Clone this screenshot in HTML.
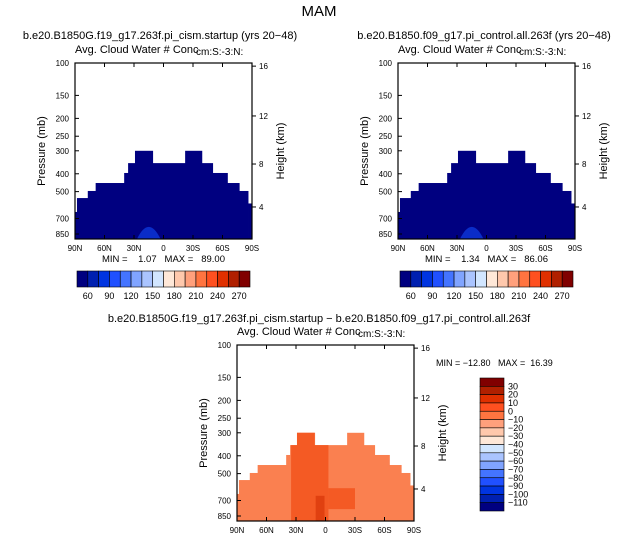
<!DOCTYPE html>
<html><head><meta charset="utf-8"><style>
body{margin:0;background:#fff;}
svg{display:block;font-family:"Liberation Sans",sans-serif;}
text{white-space:pre;}
</style></head><body>
<svg id="c" width="638" height="542" xmlns="http://www.w3.org/2000/svg">
<text x="319" y="16" font-size="15" text-anchor="middle">MAM</text>
<text x="160" y="39" font-size="11" text-anchor="middle">b.e20.B1850G.f19_g17.263f.pi_cism.startup (yrs 20−48)</text>
<text x="484" y="39" font-size="11" text-anchor="middle">b.e20.B1850.f09_g17.pi_control.all.263f (yrs 20−48)</text>
<text x="319" y="322" font-size="11" text-anchor="middle">b.e20.B1850G.f19_g17.263f.pi_cism.startup − b.e20.B1850.f09_g17.pi_control.all.263f</text>
<g id="g"></g>
</svg>
<script>
// data
const latEdges=[90,88,77,69,40,36,29,11,-22,-39,-50,-65,-77,-86,-90];
const colTopP=[645,542,496,449,396,350,300,350,300,350,396,449,496,580];
const pTicks=[100,150,200,250,300,400,500,700,850];
const hTicks=[16,12,8,4];
const hTickP=[104,194,354,606];
const latTicks=[90,60,30,0,-30,-60,-90];
const latTickLabels=["90N","60N","30N","0","30S","60S","90S"];
const absLevels=[60,90,120,150,180,210,240,270];
const diffLevels=[30,20,10,0,-10,-20,-30,-40,-50,-60,-70,-80,-90,-100,-110];
const panelMin=[1.07,1.34,-12.80];
const panelMax=[89.00,86.06,16.39];
const blobLat=[27,3]; const blobTopP=720;
const darkLat=[35,-3]; const dark2Lat=[-3,-30]; const dark2P=[600,780];
const darkestLat=[10,1]; const darkestTopP=660;
const bottomP=904;
const colors=["#000080","#0020b0","#0034e0","#2050ff","#4474ff","#80a4ff","#aac4ff","#d2e6ff","#ffe8d8","#ffc8ac","#ffa07c","#ff7440","#ff5020","#e03000","#b02000","#800000"];

const NS="http://www.w3.org/2000/svg";
const G=document.getElementById('g');
function mk(tag,attrs,parent,txt){const e=document.createElementNS(NS,tag);for(const k in attrs)e.setAttribute(k,attrs[k]);if(txt!==undefined)e.textContent=txt;(parent||G).appendChild(e);return e;}
const W=177,H=176;
function panel(idx,L,T,baseFill){
  const xs=lat=>L+(90-lat)/180*W;
  const ys=p=>T+Math.log10(p/100)*184;
  const g=mk('g',{});
  
  
  for(let i=0;i<colTopP.length;i++){
    const x0=xs(latEdges[i]),x1=xs(latEdges[i+1]),y0=ys(colTopP[i]),y1=ys(bottomP);
    const r=mk('rect',{x:x0,y:y0,width:x1-x0+0.4,height:Math.min(y1,T+H)-y0,fill:baseFill},g);
    
    
  }
  if(idx<2){
    const b=mk('path',{d:`M${xs(blobLat[0])},${T+H} Q${(xs(blobLat[0])+xs(blobLat[1]))/2},${ys(blobTopP)-6} ${xs(blobLat[1])},${T+H} Z`,fill:"#0a2cc8"},g);
    
    
  } else {
    let pts=[];
    for(let i=0;i<colTopP.length;i++){
      const a=Math.min(latEdges[i],darkLat[0]),c=Math.max(latEdges[i+1],darkLat[1]);
      if(a>c){pts.push([xs(a),ys(colTopP[i])],[xs(c),ys(colTopP[i])]);}
    }
    pts.push([xs(darkLat[1]),T+H],[xs(darkLat[0]),T+H]);
    const p1=mk('polygon',{points:pts.map(p=>p.join(',')).join(' '),fill:"#f45a24"},g);
    
    
    const p2=mk('rect',{x:xs(dark2Lat[0]),y:ys(dark2P[0]),width:xs(dark2Lat[1])-xs(dark2Lat[0]),height:ys(dark2P[1])-ys(dark2P[0]),fill:"#f45a24"},g);
    
    
    const p3=mk('rect',{x:xs(darkestLat[0]),y:ys(darkestTopP),width:xs(darkestLat[1])-xs(darkestLat[0]),height:T+H-ys(darkestTopP),fill:"#e04010"},g);
    
    
  }
  const fr=mk('rect',{x:L,y:T,width:W,height:H,fill:"none",stroke:"#000","stroke-width":1.2},g);
  
  
  pTicks.forEach(p=>{
    const y=ys(p);
    mk('line',{x1:L,x2:L+4,y1:y,y2:y,stroke:"#000"},g);
    const t=mk('text',{x:L-6,y:y+3,"font-size":8,"text-anchor":"end"},g,p);
    
    
  });
  hTicks.forEach((h,i)=>{
    const y=ys(hTickP[i]);
    mk('line',{x1:L+W,x2:L+W+4,y1:y,y2:y,stroke:"#000"},g);
    const t=mk('text',{x:L+W+7,y:y+3,"font-size":8},g,h);
    
    
  });
  latTicks.forEach((lt,i)=>{
    const x=xs(lt);
    mk('line',{x1:x,x2:x,y1:T+H,y2:T+H-4,stroke:"#000"},g);
    mk('line',{x1:x,x2:x,y1:T,y2:T+4,stroke:"#000"},g);
    const t=mk('text',{x:x,y:T+H+12,"font-size":8,"text-anchor":"middle"},g,latTickLabels[i]);
    
    
  });
  const yl=mk('text',{x:0,y:0,"font-size":11,"text-anchor":"middle",transform:`translate(${L-30},${T+H/2}) rotate(-90)`},g,"Pressure (mb)");
  
  
  const yr=mk('text',{x:0,y:0,"font-size":11,"text-anchor":"middle",transform:`translate(${L+W+32},${T+H/2}) rotate(-90)`},g,"Height (km)");
  
  
  const st=mk('text',{x:L,y:T-10,"font-size":11},g,"Avg. Cloud Water # Conc");
  
  
  const un=mk('text',{x:L+121,y:T-8,"font-size":10},g,"cm:S:-3:N:");
  
  
  const mmTxt="MIN =    "+panelMin[idx].toFixed(2)+"   MAX =   "+panelMax[idx].toFixed(2);
  let mm;
  if(idx<2) mm=mk('text',{x:L+W/2,y:T+H+23,"font-size":9.5,"text-anchor":"middle"},g,mmTxt);
  else mm=mk('text',{x:L+W+22,y:T+21,"font-size":9},g,"MIN = "+panelMin[idx].toFixed(2).replace('-','−')+"   MAX =  "+panelMax[idx].toFixed(2));
  
  
  if(idx<2){
    const cx=L+2,cy=271,bw=173/16;
    colors.forEach((c,i)=>{
      const r=mk('rect',{x:cx+i*bw,y:cy,width:bw,height:16,fill:c,stroke:"#000","stroke-width":0.6},g);
      
      
    });
    absLevels.forEach((v,i)=>{
      const t=mk('text',{x:cx+(1+2*i)*bw,y:cy+28,"font-size":9,"text-anchor":"middle"},g,v);
      
      
    });
  } else {
    const cx=480,cy=378,bh=133/16;
    colors.slice().reverse().forEach((c,i)=>{
      const r=mk('rect',{x:cx,y:cy+i*bh,width:24,height:bh,fill:c,stroke:"#000","stroke-width":0.6},g);
      
      
    });
    diffLevels.forEach((v,i)=>{
      const t=mk('text',{x:cx+28,y:cy+(i+1)*bh+3,"font-size":9},g,String(v).replace('-','−'));
      
      
    });
  }
}
panel(0,75,63,"#000080");
panel(1,398,63,"#000080");
panel(2,237,345,"#fa8050");
</script>
</body></html>
